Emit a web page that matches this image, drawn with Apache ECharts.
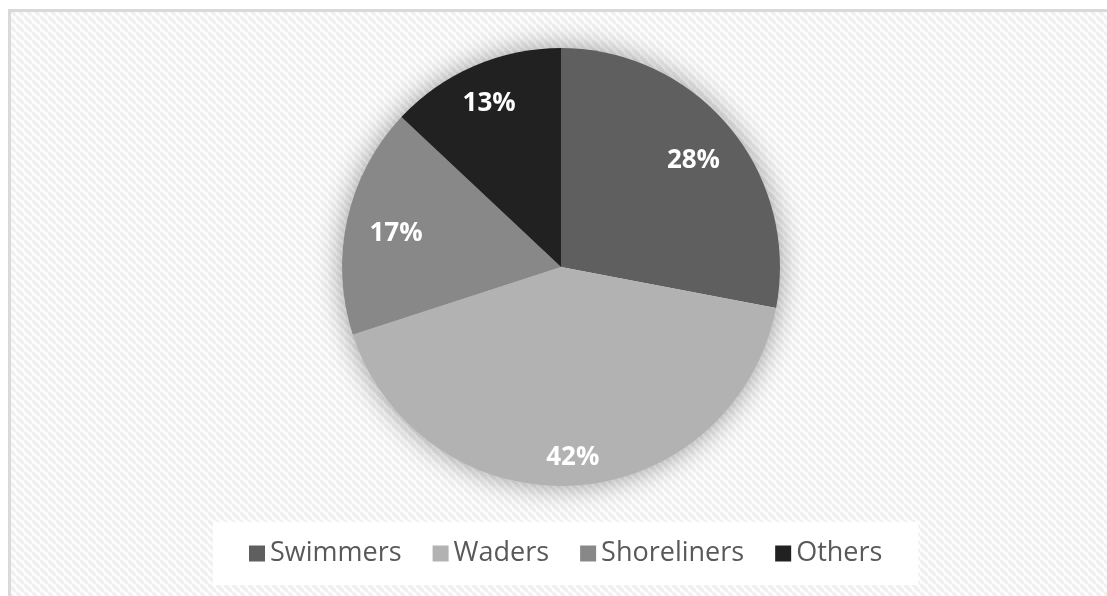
<!DOCTYPE html>
<html>
<head>
<meta charset="utf-8">
<script src="https://cdn.jsdelivr.net/npm/echarts@6/dist/echarts.min.js"></script>
<style>
  html, body { margin: 0; padding: 0; background: #ffffff; }
  #chart { width: 1107px; height: 596px; }
</style>
</head>
<body>
<div id="chart"></div>
<script>
// Share of visitors by activity
const categories = ['Swimmers', 'Waders', 'Shoreliners', 'Others'];
const shares = [28, 42, 17, 13];
const sliceColors = ['#5f5f5f', '#b2b2b2', '#888888', '#212121'];

// Light diagonal hatch for the chart area
function hatchPattern() {
  const c = document.createElement('canvas');
  c.width = 8; c.height = 8;
  const g = c.getContext('2d');
  g.fillStyle = '#ffffff';
  g.fillRect(0, 0, 8, 8);
  g.strokeStyle = '#f0f0f0';
  g.lineWidth = 3.5;
  for (const k of [-8, 0, 8]) {
    g.beginPath();
    g.moveTo(0, k);
    g.lineTo(8, k + 8);
    g.stroke();
  }
  return c;
}

const pieData = categories.map((name, i) => ({
  name,
  value: shares[i],
  itemStyle: { color: sliceColors[i] }
}));

const center = [561, 267];
const R = 219;
// how far out (fraction of the radius) each percentage label sits
const labelDepth = [0.785, 0.858, 0.772, 0.826];

const chart = echarts.init(document.getElementById('chart'), null, { renderer: 'canvas' });
chart.setOption({
  backgroundColor: '#ffffff',
  animation: false,
  graphic: [{
    type: 'rect',
    z: -10,
    silent: true,
    shape: { x: 9.5, y: 10.5, width: 1200, height: 700 },
    style: {
      fill: { image: hatchPattern(), repeat: 'repeat' },
      stroke: '#d9d9d9',
      lineWidth: 3
    }
  }],
  legend: {
    data: categories,
    left: 213,
    top: 522,
    padding: [18, 36],
    backgroundColor: '#ffffff',
    icon: 'rect',
    itemWidth: 16,
    itemHeight: 16,
    itemGap: 31,
    selectedMode: false,
    textStyle: {
      color: '#595959',
      fontFamily: 'Open Sans',
      fontSize: 27,
      lineHeight: 24
    }
  },
  series: [
    {
      // main slices
      type: 'pie',
      center,
      radius: [0, R],
      startAngle: 90,
      clockwise: true,
      silent: true,
      label: { show: false },
      labelLine: { show: false },
      data: pieData,
      z: 3
    },
    {
      // soft shadow behind the whole disc
      type: 'pie',
      center,
      radius: [0, R],
      silent: true,
      label: { show: false },
      labelLine: { show: false },
      itemStyle: {
        color: '#e0e0e0',
        shadowBlur: 28,
        shadowColor: 'rgba(0,0,0,0.38)'
      },
      data: [{ name: 'disc', value: 1 }],
      z: 1
    },
    {
      // percentage labels near the rim
      type: 'pie',
      center,
      radius: [R * 0.62, R],
      startAngle: 90,
      clockwise: true,
      silent: true,
      itemStyle: { color: 'rgba(0,0,0,0)' },
      label: {
        show: true,
        position: 'inside',
        formatter: '{d}%',
        color: '#ffffff',
        fontFamily: 'Open Sans',
        fontWeight: 'bold',
        fontSize: 26
      },
      labelLayout: function (p) {
        const r = p.labelRect;
        const cx = r.x + r.width / 2 - center[0];
        const cy = r.y + r.height / 2 - center[1];
        const d = Math.sqrt(cx * cx + cy * cy) || 1;
        const k = (labelDepth[p.dataIndex] * R) / d - 1;
        return { dx: cx * k, dy: cy * k + 3 };
      },
      labelLine: { show: false },
      data: categories.map((name, i) => ({ name, value: shares[i] })),
      z: 5
    }
  ]
});
</script>
</body>
</html>
